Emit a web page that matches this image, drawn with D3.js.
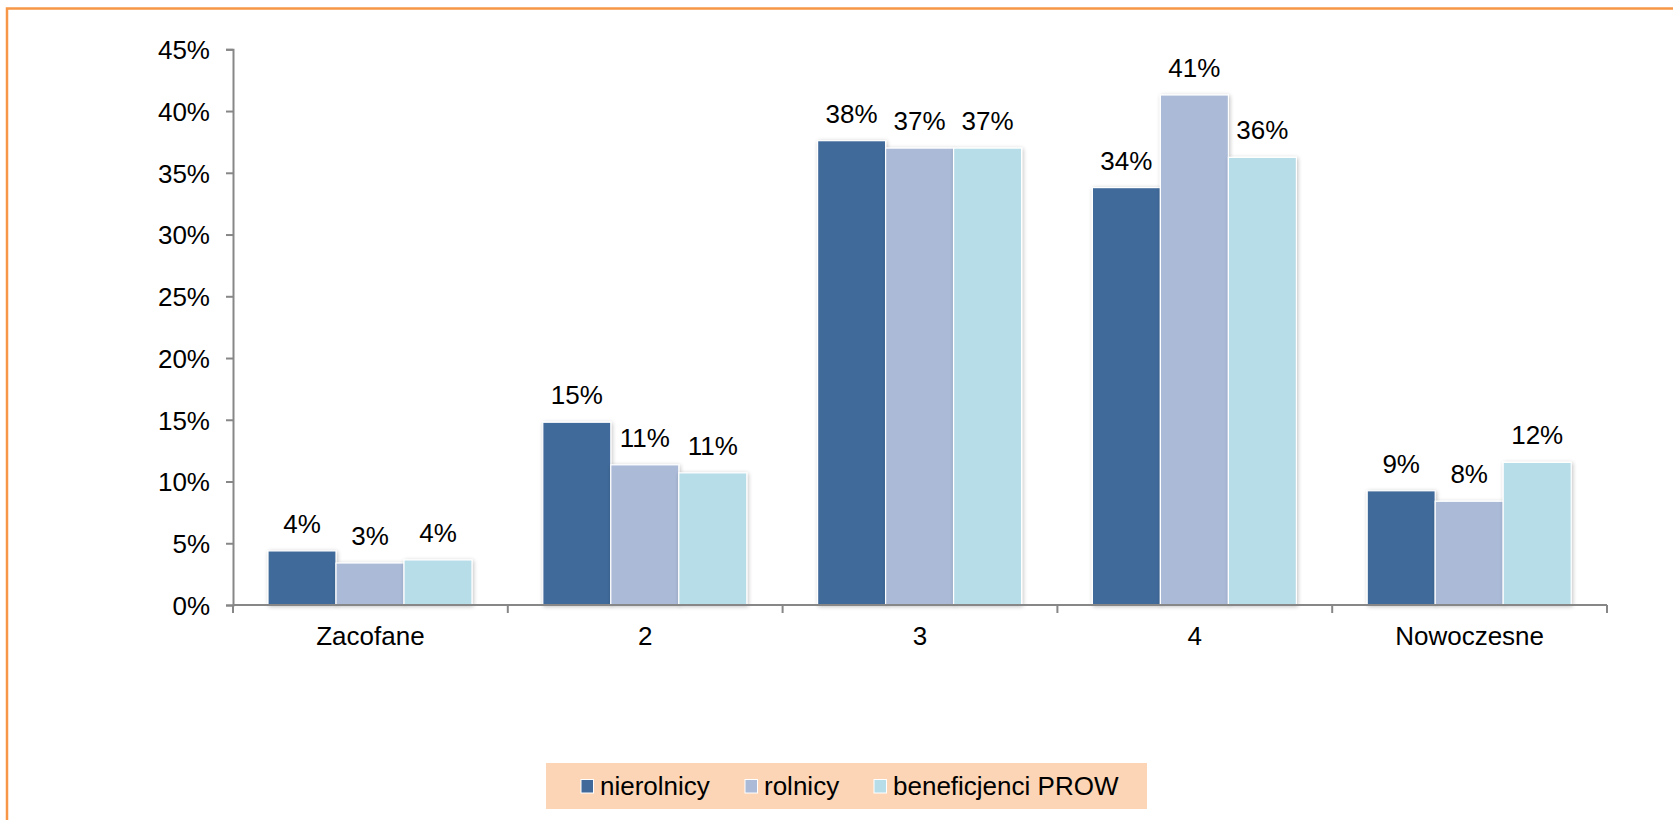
<!DOCTYPE html>
<html>
<head>
<meta charset="utf-8">
<script src="https://cdn.jsdelivr.net/npm/d3@7"></script>
<style>
  html, body { margin: 0; padding: 0; background: #fff; }
  svg { display: block; }
  text { font-family: "Liberation Sans", Arial, sans-serif; fill: #000; }
</style>
</head>
<body>
<svg id="chart" width="1673" height="820"></svg>
<script>
const categories = ["Zacofane", "2", "3", "4", "Nowoczesne"];
const seriesNames = ["nierolnicy", "rolnicy", "beneficjenci PROW"];
const nierolnicy = [4.38, 14.8, 37.6, 33.8, 9.25];
const rolnicy = [3.4, 11.35, 37.0, 41.3, 8.4];
const beneficjenci = [3.65, 10.7, 37.0, 36.25, 11.55];
const labelsNierolnicy = ["4%", "15%", "38%", "34%", "9%"];
const labelsRolnicy = ["3%", "11%", "37%", "41%", "8%"];
const labelsBeneficjenci = ["4%", "11%", "37%", "36%", "12%"];
const yTicks = [0, 5, 10, 15, 20, 25, 30, 35, 40, 45];
const colors = ["#416A9A", "#AABAD7", "#B7DDE8"];

const seriesValues = [nierolnicy, rolnicy, beneficjenci];
const seriesLabels = [labelsNierolnicy, labelsRolnicy, labelsBeneficjenci];

const svg = d3.select("#chart");

// outer orange frame
svg.append("rect")
  .attr("x", 7).attr("y", 8.5)
  .attr("width", 1720).attr("height", 900)
  .attr("fill", "none").attr("stroke", "#F79646").attr("stroke-width", 2.5);

const plotLeft = 233, plotRight = 1607, plotTop = 49.3, plotBottom = 605;

const y = d3.scaleLinear().domain([0, 45]).range([plotBottom, plotTop]);
const x0 = d3.scaleBand().domain(categories).range([plotLeft, plotRight]).padding(0);
const x1 = d3.scaleBand().domain(seriesNames).range([35, 239]).padding(0);

// shadow filter
const defs = svg.append("defs");
const f = defs.append("filter").attr("id", "shadow")
  .attr("x", "-20%").attr("y", "-20%").attr("width", "140%").attr("height", "140%");
f.append("feGaussianBlur").attr("in", "SourceAlpha").attr("stdDeviation", 2).attr("result", "b");
f.append("feOffset").attr("in", "b").attr("dx", 1).attr("dy", 1).attr("result", "o");
f.append("feComponentTransfer").attr("in", "o").attr("result", "s")
  .append("feFuncA").attr("type", "linear").attr("slope", 0.25);
const m = f.append("feMerge");
m.append("feMergeNode").attr("in", "s");
m.append("feMergeNode").attr("in", "SourceGraphic");

// bars
const groups = svg.append("g").selectAll("g")
  .data(categories)
  .join("g")
  .attr("transform", c => `translate(${x0(c)},0)`);

seriesNames.forEach((s, si) => {
  groups.append("rect")
    .attr("x", (c, i) => x1(s))
    .attr("y", (c, i) => y(seriesValues[si][i]))
    .attr("width", x1.bandwidth())
    .attr("height", (c, i) => plotBottom - y(seriesValues[si][i]))
    .attr("fill", colors[si])
    .attr("stroke", "#fff").attr("stroke-width", 1.2)
    .attr("filter", "url(#shadow)");
});

seriesNames.forEach((s, si) => {
  groups.append("text")
    .attr("x", (c, i) => x1(s) + x1.bandwidth() / 2)
    .attr("y", (c, i) => y(seriesValues[si][i]) - 18)
    .attr("text-anchor", "middle")
    .style("font-size", "26px")
    .text((c, i) => seriesLabels[si][i]);
});

// y axis
const yAxis = d3.axisLeft(y).tickValues(yTicks).tickFormat(d => d + "%").tickSize(7).tickPadding(16);
const gy = svg.append("g").attr("transform", `translate(${plotLeft},0)`).call(yAxis);
gy.select(".domain").attr("stroke", "#878787").attr("stroke-width", 2);
gy.selectAll(".tick line").attr("stroke", "#878787").attr("stroke-width", 2);
gy.selectAll(".tick text").style("font-size", "26px").style("font-family", "Liberation Sans, Arial, sans-serif").attr("fill", "#000").attr("dy", "0.36em");

// x axis
const xAxis = d3.axisBottom(x0).tickSize(0).tickPadding(0);
const gx = svg.append("g").attr("transform", `translate(0,${plotBottom})`).call(xAxis);
gx.select(".domain").attr("stroke", "#878787").attr("stroke-width", 2).attr("d", `M${plotLeft},0H${plotRight}`);
gx.selectAll(".tick text").style("font-size", "26px").style("font-family", "Liberation Sans, Arial, sans-serif").attr("fill", "#000").attr("y", 40).attr("dy", 0);
const boundaries = categories.map(c => x0(c)).concat([plotRight]);
gx.selectAll(".bound").data(boundaries).join("line")
  .attr("class", "bound")
  .attr("x1", d => d).attr("x2", d => d).attr("y1", 0).attr("y2", 8)
  .attr("stroke", "#878787").attr("stroke-width", 2);

// legend
const lg = svg.append("g");
lg.append("rect").attr("x", 546).attr("y", 763).attr("width", 601).attr("height", 46).attr("fill", "#FBD5B5");
const legendX = [581, 745, 874];
seriesNames.forEach((s, si) => {
  lg.append("rect").attr("x", legendX[si]).attr("y", 779.5).attr("width", 12.5).attr("height", 13.5)
    .attr("fill", colors[si]).attr("stroke", "#fff").attr("stroke-width", 1);
  lg.append("text").attr("x", legendX[si] + 19).attr("y", 795).style("font-size", "26px").text(s);
});
</script>
</body>
</html>
